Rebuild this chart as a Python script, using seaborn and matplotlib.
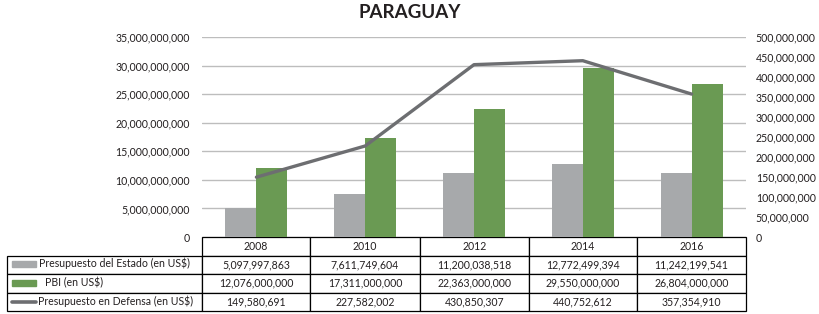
import numpy as np
import pandas as pd
import matplotlib
matplotlib.use('Agg')
import matplotlib.pyplot as plt
import seaborn as sns
from matplotlib.ticker import FuncFormatter, MultipleLocator
from matplotlib.patches import Rectangle
from matplotlib.lines import Line2D

sns.set_style('white')
plt.rcParams['font.family'] = ['Lato', 'DejaVu Sans']

years = ['2008', '2010', '2012', '2014', '2016']
presupuesto = [5097997863, 7611749604, 11200038518, 12772499394, 11242199541]
pbi = [12076000000, 17311000000, 22363000000, 29550000000, 26804000000]
defensa = [149580691, 227582002, 430850307, 440752612, 357354910]
series_labels = ['Presupuesto del Estado (en US$)', 'PBI (en US$)',
                 'Presupuesto en Defensa (en US$)']

gray = '#A7A9AB'
green = '#6A9A53'
line_col = '#6D6E71'

W, H = 819, 314
fig = plt.figure(figsize=(W / 100, H / 100), dpi=100)
ax = fig.add_axes([202 / W, (H - 237) / H, 544 / W, 200 / H])

df = pd.DataFrame({'year': years * 2,
                   'value': presupuesto + pbi,
                   'serie': [series_labels[0]] * 5 + [series_labels[1]] * 5})
sns.barplot(data=df, x='year', y='value', hue='serie', palette=[gray, green],
            width=0.57, gap=0, saturation=1, legend=False, ax=ax, zorder=2)
for p in ax.patches:
    p.set_edgecolor('none')

ax.set_ylim(0, 35e9)
ax.set_xlim(-0.5, 4.5)
ax.yaxis.set_major_locator(MultipleLocator(5e9))
fmt = FuncFormatter(lambda v, p: f'{v:,.0f}')
ax.yaxis.set_major_formatter(fmt)
ax.grid(axis='y', color='#BDBDBD', linewidth=1, zorder=0)
ax.set_axisbelow(True)
ax.set_xlabel('')
ax.set_ylabel('')
ax.set_xticks([])
ax.tick_params(axis='y', length=0, pad=9, labelsize=7.6, colors='#231F20')
for s in ax.spines.values():
    s.set_visible(False)

ax2 = ax.twinx()
sns.lineplot(x=np.arange(len(years)), y=defensa, ax=ax2, color=line_col,
             linewidth=2.4)
ax2.set_ylim(0, 500e6)
ax2.set_xlim(-0.5, 4.5)
ax2.yaxis.set_major_locator(MultipleLocator(50e6))
ax2.yaxis.set_major_formatter(fmt)
ax2.tick_params(axis='y', length=0, pad=7, labelsize=7.6, colors='#231F20')
for s in ax2.spines.values():
    s.set_visible(False)

# data table under the chart
cell_text = [[''] + [f'{v:,}' for v in presupuesto],
             [''] + [f'{v:,}' for v in pbi],
             [''] + [f'{v:,}' for v in defensa]]
widths = np.array([195, 108, 110, 109, 108, 109]) / 739
tab = ax.table(cellText=cell_text, colLabels=[''] + years, colWidths=list(widths),
               cellLoc='center', bbox=[-195 / 544, -74 / 200, 739 / 544, 74 / 200])
tab.auto_set_font_size(False)
tab.set_fontsize(7.6)
for (r, c), cell in tab.get_celld().items():
    cell.set_linewidth(0.9)
    cell.set_edgecolor('black')
    cell.get_text().set_color('#231F20')
tab[0, 0].visible_edges = ''

def fx(px):
    return px / W

def fy(py):
    return 1 - py / H

row_y = [263.5, 282.5, 301.5]
fig.patches.append(Rectangle((fx(12), fy(row_y[0] + 3)), fx(24), 6 / H,
                             transform=fig.transFigure, color=gray))
fig.patches.append(Rectangle((fx(12), fy(row_y[1] + 3)), fx(24), 6 / H,
                             transform=fig.transFigure, color=green))
fig.lines.append(Line2D([fx(12), fx(36)], [fy(row_y[2]), fy(row_y[2])],
                        transform=fig.transFigure, color=line_col, linewidth=2.6))
label_x = [39, 45, 38]
for lab, lx, ly in zip(series_labels, label_x, row_y):
    fig.text(fx(lx), fy(ly), lab, ha='left', va='center', fontsize=7.6,
             color='#231F20')

fig.text(0.5, fy(13), 'PARAGUAY', ha='center', va='center', fontsize=13.5,
         fontweight='bold', color='#231F20')

fig.savefig('out.png', dpi=100)
